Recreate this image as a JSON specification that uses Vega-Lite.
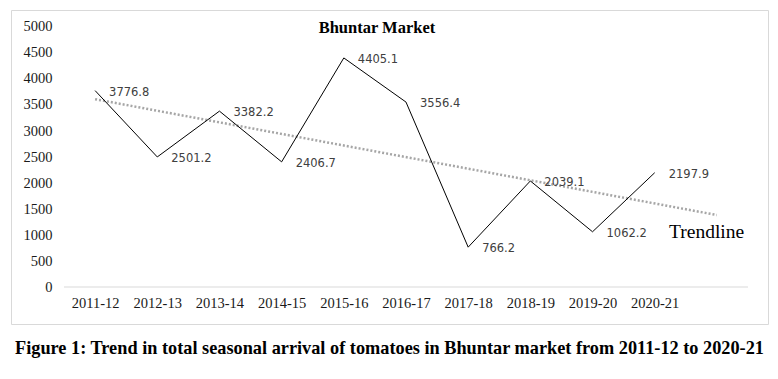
{
  "$schema": "https://vega.github.io/schema/vega-lite/v6.json",
  "autosize": {"type": "none"},
  "padding": {"left": 11, "top": 10, "right": 10, "bottom": 55},
  "width": 757,
  "height": 314,
  "background": "white",
  "config": {
    "view": {"stroke": "#d9d9d9", "strokeWidth": 1},
    "axis": {"grid": false, "ticks": false, "domain": false}
  },
  "title": {
    "text": "Figure 1: Trend in total seasonal arrival of tomatoes in Bhuntar market from 2011-12 to 2020-21",
    "orient": "bottom",
    "anchor": "middle",
    "font": "Liberation Serif",
    "fontWeight": "bold",
    "fontSize": 18.3,
    "color": "#000000",
    "offset": 16
  },
  "datasets": {
    "arrivals": [
      {"t": 1, "season": "2011-12", "arrival": 3776.8},
      {"t": 2, "season": "2012-13", "arrival": 2501.2},
      {"t": 3, "season": "2013-14", "arrival": 3382.2},
      {"t": 4, "season": "2014-15", "arrival": 2406.7},
      {"t": 5, "season": "2015-16", "arrival": 4405.1},
      {"t": 6, "season": "2016-17", "arrival": 3556.4},
      {"t": 7, "season": "2017-18", "arrival": 766.2},
      {"t": 8, "season": "2018-19", "arrival": 2039.1},
      {"t": 9, "season": "2019-20", "arrival": 1062.2},
      {"t": 10, "season": "2020-21", "arrival": 2197.9}
    ],
    "trend": [
      {"t": 1, "trend": 3612.2},
      {"t": 11, "trend": 1383.8}
    ],
    "one": [{}]
  },
  "layer": [
    {
      "data": {"name": "one"},
      "mark": {"type": "rule", "color": "#d9d9d9", "strokeWidth": 1},
      "encoding": {
        "x": {
          "datum": 0.5,
          "type": "quantitative",
          "scale": {"domain": [-0.3525, 11.822], "nice": false, "zero": false},
          "axis": {
            "orient": "bottom",
            "offset": -37,
            "values": [1, 2, 3, 4, 5, 6, 7, 8, 9, 10],
            "labelExpr": "['2011-12','2012-13','2013-14','2014-15','2015-16','2016-17','2017-18','2018-19','2019-20','2020-21'][datum.value - 1]",
            "labelFont": "Liberation Serif",
            "labelFontSize": 14.5,
            "labelColor": "#1a1a1a",
            "labelPadding": 9,
            "labelOverlap": false,
            "title": null
          }
        },
        "x2": {"datum": 11.5},
        "y": {
          "datum": 0,
          "type": "quantitative",
          "scale": {"domain": [-711.5, 5326.9], "nice": false, "zero": false},
          "axis": {
            "orient": "left",
            "offset": -41,
            "values": [0, 500, 1000, 1500, 2000, 2500, 3000, 3500, 4000, 4500, 5000],
            "tickCount": 11,
            "format": "d",
            "labelFont": "Liberation Serif",
            "labelFontSize": 14.5,
            "labelColor": "#1a1a1a",
            "labelPadding": 0,
            "labelOverlap": false,
            "labelBound": false,
            "title": null
          }
        }
      }
    },
    {
      "data": {"name": "trend"},
      "mark": {"type": "line", "color": "#a6a6a6", "strokeWidth": 2.5, "strokeDash": [2, 2], "clip": false},
      "encoding": {
        "x": {"field": "t", "type": "quantitative"},
        "y": {"field": "trend", "type": "quantitative"}
      }
    },
    {
      "data": {"name": "arrivals"},
      "mark": {"type": "line", "color": "#000000", "strokeWidth": 1},
      "encoding": {
        "x": {"field": "t", "type": "quantitative"},
        "y": {"field": "arrival", "type": "quantitative"}
      }
    },
    {
      "data": {"name": "arrivals"},
      "mark": {"type": "text", "align": "left", "baseline": "middle", "dx": 14, "dy": 2, "font": "DejaVu Sans", "fontSize": 11.5, "color": "#404040"},
      "encoding": {
        "x": {"field": "t", "type": "quantitative"},
        "y": {"field": "arrival", "type": "quantitative"},
        "text": {"field": "arrival", "type": "quantitative", "format": ".1f"}
      }
    },
    {
      "data": {"name": "one"},
      "mark": {"type": "text", "align": "center", "baseline": "middle", "font": "Liberation Serif", "fontWeight": "bold", "fontSize": 16.5, "color": "#000000"},
      "encoding": {
        "x": {"datum": 5.533, "type": "quantitative"},
        "y": {"datum": 4990, "type": "quantitative"},
        "text": {"value": "Bhuntar Market"}
      }
    },
    {
      "data": {"name": "one"},
      "mark": {"type": "text", "align": "left", "baseline": "middle", "font": "Liberation Serif", "fontSize": 19.5, "color": "#000000"},
      "encoding": {
        "x": {"datum": 10.23, "type": "quantitative"},
        "y": {"datum": 1054, "type": "quantitative"},
        "text": {"value": "Trendline"}
      }
    }
  ]
}
